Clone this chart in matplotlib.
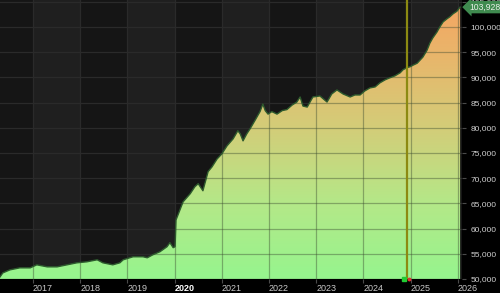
import matplotlib.pyplot as plt
import numpy as np
from matplotlib.colors import LinearSegmentedColormap

# values (decimal year, index level)
years = [2016.30, 2016.36, 2016.51, 2016.72, 2016.94, 2017.08, 2017.30, 2017.51,
         2017.72, 2017.93, 2018.14, 2018.36, 2018.48, 2018.69, 2018.84, 2018.91,
         2019.12, 2019.33, 2019.42, 2019.54, 2019.69, 2019.84, 2019.90, 2019.97,
         2020.01, 2020.03, 2020.18, 2020.33, 2020.43, 2020.50, 2020.60, 2020.71,
         2020.79, 2020.90, 2021.00, 2021.11, 2021.24, 2021.34, 2021.39, 2021.45,
         2021.53, 2021.60, 2021.70, 2021.81, 2021.87, 2021.92, 2021.98, 2022.06,
         2022.17, 2022.28, 2022.38, 2022.49, 2022.59, 2022.66, 2022.72, 2022.81,
         2022.93, 2023.08, 2023.23, 2023.33, 2023.44, 2023.57, 2023.72, 2023.82,
         2023.93, 2024.03, 2024.14, 2024.25, 2024.35, 2024.46, 2024.56, 2024.67,
         2024.78, 2024.84, 2024.92, 2024.99, 2025.05, 2025.14, 2025.20, 2025.26,
         2025.35, 2025.41, 2025.47, 2025.56, 2025.62, 2025.69, 2025.77, 2025.83,
         2025.90, 2025.98, 2026.05]
values = [50400, 51200, 51800, 52200, 52200, 52800, 52400, 52400,
          52800, 53200, 53400, 53800, 53200, 52800, 53200, 53800,
          54400, 54400, 54200, 54800, 55400, 56400, 57200, 56200,
          56400, 61700, 65300, 66900, 68300, 68900, 67500, 71300,
          72200, 73800, 74800, 76400, 77800, 79400, 78800, 77400,
          78800, 79800, 81400, 83200, 84700, 83400, 82700, 83200,
          82700, 83400, 83600, 84500, 85100, 86100, 84300, 84100,
          86100, 86300, 85100, 86700, 87500, 86700, 86100, 86500,
          86500, 87300, 87900, 88100, 88900, 89500, 89900, 90300,
          90900, 91500, 91900, 92100, 92400, 92800, 93400, 94000,
          95400, 96800, 97800, 99000, 100000, 101000, 101600, 102000,
          102600, 103100, 103928]

year_ticks = [2017, 2018, 2019, 2020, 2021, 2022, 2023, 2024, 2025, 2026]
value_ticks = list(range(50000, 105001, 5000))
last_value = 103928
marker_date = 2024.93

x0, x1 = 2016.30, 2026.09
y0, y1 = 50000, 105340

plt.rcParams['font.family'] = ['Liberation Sans', 'DejaVu Sans']

fig = plt.figure(figsize=(5.0, 2.93), dpi=100, facecolor='black')
ax = fig.add_axes([0.0, 0.048, 0.924, 0.952])
ax.set_facecolor('#151515')
ax.set_xlim(x0, x1)
ax.set_ylim(y0, y1)
ax.set_axisbelow(True)

# alternating year bands
for yr in year_ticks[::2]:
    ax.axvspan(yr, yr + 1, color='#1f1f1f', lw=0, zorder=0)

# gradient filled area
cmap = LinearSegmentedColormap.from_list('grad', [
    (0.0, '#96f58e'), (0.27, '#b4e888'), (0.55, '#d4cc78'),
    (0.82, '#eab46a'), (1.0, '#f5a562')])
grad = np.linspace(0, 1, 256).reshape(-1, 1)
img = ax.imshow(grad, cmap=cmap, origin='lower', aspect='auto',
                extent=[x0, x1, y0, y1], zorder=1)
fill = ax.fill_between(years, values, y0, color='none', lw=0)
area = fill.get_paths()[0]
img.set_clip_path(area, transform=ax.transData)

# grid: faint on the dark background, darker over the filled area
ax.set_xticks(year_ticks)
ax.set_yticks(value_ticks)
ax.grid(True, color='#2a2a2a', lw=0.9)
for yr in year_ticks:
    ln = ax.axvline(yr, color='#3a4a30', alpha=0.42, lw=0.9, zorder=1.5)
    ln.set_clip_path(area, transform=ax.transData)
for v in value_ticks:
    ln = ax.axhline(v, color='#3a4a30', alpha=0.42, lw=0.9, zorder=1.5)
    ln.set_clip_path(area, transform=ax.transData)

ax.plot(years, values, color='#2d5a2d', lw=1.0, zorder=2)

# vertical marker line
ax.axvline(marker_date, color='#8c8a12', lw=1.6, zorder=4)
ax.plot([marker_date - 0.06], [y0], marker='s', ms=3.5, color='#22cc33',
        clip_on=False, zorder=6)
ax.plot([marker_date + 0.03], [y0], marker='o', ms=1.8, color='#dd3333',
        clip_on=False, zorder=6)

for s in ax.spines.values():
    s.set_visible(False)

ax.yaxis.tick_right()
ax.set_yticklabels([f'{v:,}' for v in value_ticks])
ax.tick_params(axis='y', colors='#4a4a4a', labelcolor='#cfcfcf',
               labelsize=6, length=3, pad=3)
ax.set_xticklabels([str(y) for y in year_ticks])
ax.tick_params(axis='x', colors='#4a4a4a', labelcolor='#c8c8c8',
               labelsize=6.5, length=3, pad=1)
for lbl in ax.get_xticklabels():
    lbl.set_horizontalalignment('left')
    if lbl.get_text() == '2020':
        lbl.set_fontweight('bold')
        lbl.set_color('white')

# last value tag
ax.annotate(f'{last_value:,}', xy=(1.0, last_value), xycoords=('axes fraction', 'data'),
            xytext=(5, 0), textcoords='offset points', va='center', ha='left',
            fontsize=6.2, color='#e8f0e8', annotation_clip=False, zorder=10,
            bbox=dict(boxstyle='larrow,pad=0.2', fc='#3f8a4f', ec='none'))

fig.savefig('out.png', dpi=100, facecolor='black')
